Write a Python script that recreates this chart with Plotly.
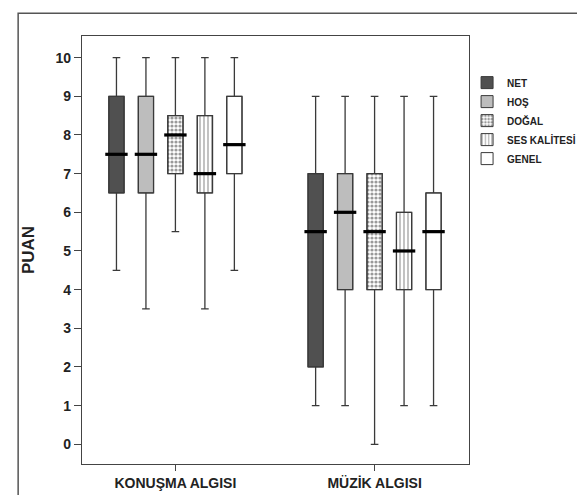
import plotly.graph_objects as go

groups = ["KONUŞMA ALGISI", "MÜZİK ALGISI"]
series = ["NET", "HOŞ", "DOĞAL", "SES KALİTESİ", "GENEL"]
# per series: values for [KONUŞMA, MÜZİK]
mins    = {"NET": [4.5, 1], "HOŞ": [3.5, 1], "DOĞAL": [5.5, 0], "SES KALİTESİ": [3.5, 1], "GENEL": [4.5, 1]}
q1s     = {"NET": [6.5, 2], "HOŞ": [6.5, 4], "DOĞAL": [7.0, 4], "SES KALİTESİ": [6.5, 4], "GENEL": [7.0, 4]}
medians = {"NET": [7.5, 5.5], "HOŞ": [7.5, 6], "DOĞAL": [8.0, 5.5], "SES KALİTESİ": [7.0, 5], "GENEL": [7.75, 5.5]}
q3s     = {"NET": [9, 7], "HOŞ": [9, 7], "DOĞAL": [8.5, 7], "SES KALİTESİ": [8.5, 6], "GENEL": [9, 6.5]}
maxs    = {"NET": [10, 9], "HOŞ": [10, 9], "DOĞAL": [10, 9], "SES KALİTESİ": [10, 9], "GENEL": [10, 9]}
y_ticks = list(range(0, 11))

fills = {"NET": "#505050", "HOŞ": "#bdbdbd", "DOĞAL": "white", "SES KALİTESİ": "white", "GENEL": "white"}
patterns = {"NET": "", "HOŞ": "", "DOĞAL": ".", "SES KALİTESİ": "|", "GENEL": ""}

spacing = 0.148
bw = 0.0766
edge = "#3a3a3a"

fig = go.Figure()
for i, s in enumerate(series):
    xs = [g + (i - 2) * spacing for g in range(len(groups))]
    fig.add_trace(go.Bar(
        x=xs, y=[q3s[s][g] - q1s[s][g] for g in range(len(groups))], base=q1s[s],
        width=bw, name=s,
        marker=dict(color=fills[s], line=dict(color=edge, width=1),
                    pattern=dict(shape=patterns[s], fgcolor="#333333", bgcolor="white",
                                 size=4, solidity=0.3 if s == "SES KALİTESİ" else 0.5)),
        hoverinfo="skip",
    ))
for i, s in enumerate(series):
    xs = [g + (i - 2) * spacing for g in range(len(groups))]
    fig.add_trace(go.Box(
        x=xs, lowerfence=mins[s], q1=q1s[s], median=medians[s], q3=q3s[s], upperfence=maxs[s],
        width=bw, whiskerwidth=0.5, fillcolor="rgba(0,0,0,0)",
        line=dict(color=edge, width=1.3), showlegend=False, name=s,
    ))
    fig.add_trace(go.Scatter(
        x=xs, y=medians[s], mode="markers", showlegend=False, hoverinfo="skip",
        marker=dict(symbol="line-ew", size=16, line=dict(color="black", width=3.2)),
    ))

font_family = "Liberation Sans, Arial, sans-serif"
fig.update_layout(
    width=585, height=495,
    margin=dict(l=74, r=105, t=28, b=32),
    paper_bgcolor="white", plot_bgcolor="white",
    barmode="overlay",
    font=dict(family=font_family, color="#222222"),
    xaxis=dict(range=[-0.469, 1.474], tickvals=[0, 1], ticktext=groups,
               showgrid=False, zeroline=False, showline=True, linecolor="#444", linewidth=1.2, mirror=True,
               ticks="outside", ticklen=6, tickcolor="#444",
               tickfont=dict(size=14, family=font_family, color="#222", weight="bold")),
    yaxis=dict(range=[-0.51, 10.56], tickvals=y_ticks,
               showgrid=False, zeroline=False, showline=True, linecolor="#444", linewidth=1.2, mirror=True,
               ticks="outside", ticklen=7, tickcolor="#444",
               tickfont=dict(size=14, family=font_family, color="#222", weight="bold"),
               title=dict(text="PUAN", font=dict(size=17, family=font_family, color="#222", weight="bold"), standoff=16)),
    legend=dict(x=0.995, y=0.925, xanchor="left", yanchor="top",
                font=dict(size=10, family=font_family, color="#222", weight="bold"),
                itemwidth=30, tracegroupgap=0, bgcolor="rgba(0,0,0,0)"),
    shapes=[dict(type="rect", xref="paper", yref="paper", x0=-0.165, y0=-0.2, x1=1.4, y1=1.0529,
                 line=dict(color="#555", width=1.5), fillcolor="rgba(0,0,0,0)", layer="below")],
)
fig.write_html("out.html")
